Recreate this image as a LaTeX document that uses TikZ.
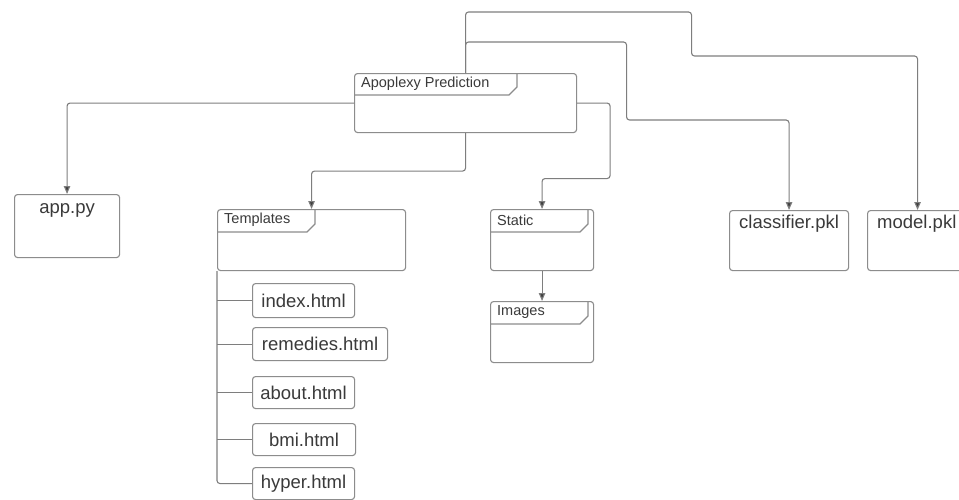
\documentclass[tikz,border=0pt]{standalone}
\usepackage{fontspec}
\setmainfont{Liberation Sans}
\usetikzlibrary{arrows.meta,calc}
\definecolor{linec}{HTML}{7E7E7E}
\definecolor{boxc}{HTML}{8C8C8C}
\definecolor{txtc}{HTML}{3A3A3A}
\definecolor{tipc}{HTML}{404040}
\tikzset{
  fbox/.style={draw=boxc, line width=1.1pt, rounded corners=3pt, inner sep=0pt,
    anchor=north west},
  filebox/.style={fbox, font=\fontsize{18.5}{20}\selectfont, text=txtc},
  foldertab/.style={draw=boxc, line width=1.1pt},
  folderlbl/.style={anchor=west, inner sep=0pt, text=txtc,
    font=\fontsize{14.5}{16}\selectfont},
  filelbl/.style={anchor=base, inner sep=0pt, text=txtc,
    font=\fontsize{18.5}{20}\selectfont},
  wire/.style={draw=linec, line width=1.1pt, rounded corners=3pt},
  arrowwire/.style={wire, -{Triangle[length=8pt,width=6.5pt,fill=tipc]}},
}
\begin{document}
\begin{tikzpicture}[x=1pt,y=-1pt]
\clip (0,0) rectangle (959,499);
\fill[white] (0,0) rectangle (959,499);

% root folder
\node[fbox, minimum width=222pt, minimum height=59pt] (root) at (354,73) {};
\draw[foldertab] (517,73) -- (517,87) -- (509,95) -- (354,95);
\node[folderlbl] (rootlbl) at (361,84) {Apoplexy Prediction};

% top-level files
\node[fbox, minimum width=105pt, minimum height=63pt] (app) at (14,194) {};
\node[filelbl] (applbl) at ($(app.north)+(0,19)$) {app.py};

\node[fbox, minimum width=119pt, minimum height=60pt] (clf) at (729,210) {};
\node[filelbl] (clflbl) at ($(clf.north)+(0,18)$) {classifier.pkl};

\node[fbox, minimum width=100pt, minimum height=60pt] (model) at (867,210) {};
\node[filelbl, anchor=base west] (modellbl) at ($(model.north west)+(10,18)$) {model.pkl};

% sub-folders with their chamfered title tabs
\node[fbox, minimum width=188pt, minimum height=61pt] (tmpl) at (217,209) {};
\draw[foldertab] (315,209) -- (315,224) -- (307,232) -- (217,232);
\node[folderlbl] (tmpllbl) at (224,220) {Templates};

\node[fbox, minimum width=103pt, minimum height=61pt] (static) at (490,209) {};
\draw[foldertab] (588,209) -- (588,224) -- (580,232) -- (490,232);
\node[folderlbl] (staticlbl) at (497,220) {Static};

\node[fbox, minimum width=103pt, minimum height=61pt] (images) at (490,301) {};
\draw[foldertab] (588,301) -- (588,316) -- (580,324) -- (490,324);
\node[folderlbl] (imageslbl) at (497,312) {Images};

% templates
\node[filebox, minimum width=102pt, minimum height=34pt] (index) at (252,283) {index.html};
\node[filebox, minimum width=135pt, minimum height=33pt] (remedies) at (252,327) {remedies.html};
\node[filebox, minimum width=102pt, minimum height=32pt] (about) at (252,376) {about.html};
\node[filebox, minimum width=103pt, minimum height=32pt] (bmi) at (252,423) {bmi.html};
\node[filebox, minimum width=102pt, minimum height=32pt] (hyper) at (252,467) {hyper.html};

% connectors from the root folder
\draw[arrowwire] (root.west) -| (app.north);
\draw[arrowwire] (root.south) -- ++(0,38) -| (tmpl.north);
\draw[arrowwire] (root.east) -- ++(33,0) -- ++(0,75.5) -| (static.north);
\draw[arrowwire] (root.north) -- ++(0,-61) -- ++(226,0) -- ++(0,44) -| (model.north);
\draw[arrowwire] (root.north) -- ++(0,-31) -- ++(161,0) -- ++(0,78) -| (clf.north);
\draw[arrowwire] (static.south) -- (images.north);

% template tree
\draw[wire] (tmpl.south west) |- (hyper.west);
\foreach \f in {index,remedies,about,bmi}
  \draw[wire] (tmpl.south west |- \f.west) -- (\f.west);
\end{tikzpicture}
\end{document}
